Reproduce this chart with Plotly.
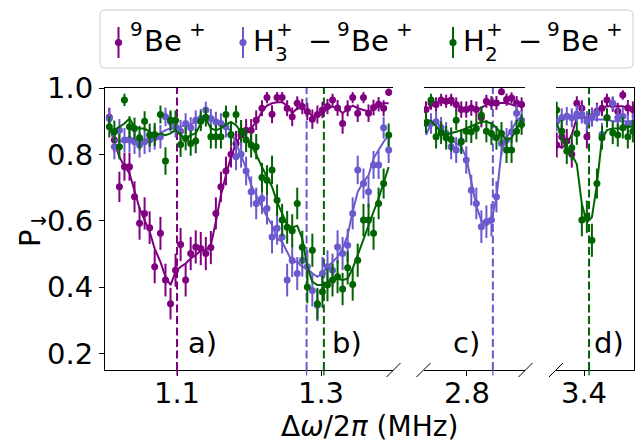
import numpy as np
import plotly.graph_objects as go

W, H = 644, 445

# ---------------- data ----------------
# panel a/b  (0.99 .. 1.40 MHz)
x_ab = [1.006, 1.013, 1.020, 1.027, 1.034, 1.041, 1.048, 1.055, 1.062, 1.069,
        1.077, 1.084, 1.091, 1.098, 1.105, 1.112, 1.119, 1.126, 1.133, 1.140,
        1.147, 1.154, 1.161, 1.168, 1.175, 1.182, 1.189, 1.196, 1.203, 1.210,
        1.218, 1.225, 1.232, 1.239, 1.246, 1.253, 1.260, 1.267, 1.274, 1.281,
        1.288, 1.295, 1.302, 1.309, 1.316, 1.323, 1.330, 1.337, 1.344, 1.351,
        1.359, 1.366, 1.373, 1.380, 1.387, 1.394]
be_ab = [0.912, 0.843, 0.702, 0.763, 0.763, 0.672, 0.592, 0.622, 0.579, 0.461, 0.562, 0.421, 0.350, 0.451, 0.528, 0.421, 0.501, 0.521,
         0.516, 0.501, 0.519, 0.622, 0.702, 0.750, 0.800, 0.833, 0.858, 0.873, 0.873, 0.903, 0.939, 0.971, 0.921, 0.971, 0.971, 0.939, 0.913,
         0.954, 0.944, 0.929, 0.906, 0.920, 0.934, 0.944, 0.964, 0.940, 0.893, 0.939, 0.971, 0.924, 0.971, 0.924, 0.941, 0.951, 0.939, 0.987]
be_ab_fit = [0.888, 0.835, 0.793, 0.763, 0.743, 0.692, 0.637, 0.602, 0.567, 0.516, 0.476, 0.431, 0.406, 0.446, 0.461, 0.471, 0.486, 0.496,
             0.511, 0.511, 0.526, 0.597, 0.677, 0.738, 0.793, 0.833, 0.858, 0.868, 0.878, 0.898, 0.929, 0.947, 0.954, 0.957, 0.957, 0.947, 0.924,
             0.939, 0.939, 0.929, 0.916, 0.913, 0.924, 0.939, 0.944, 0.939, 0.924, 0.937, 0.947, 0.939, 0.934, 0.929, 0.934, 0.949, 0.954, 0.954]
h3_ab = [0.908, 0.823, 0.873, 0.843, 0.843, 0.838, 0.828, 0.838, 0.843, 0.850, 0.853, 0.913, 0.898, 0.883, 0.870, 0.893, 0.880,
         0.903, 0.908, 0.934, 0.908, 0.898, 0.893, 0.883, 0.858, 0.793, 0.800, 0.750, 0.687, 0.652, 0.667, 0.637, 0.551, 0.577, 0.551, 0.421, 0.480,
         0.441, 0.481, 0.461, 0.390, 0.345, 0.441, 0.461, 0.451, 0.521, 0.501, 0.526, 0.622, 0.753, 0.712, 0.687, 0.768, 0.768, 0.880, 0.813]
h3_ab_fit = [0.888, 0.843, 0.838, 0.843, 0.853, 0.843, 0.838, 0.840, 0.843, 0.858, 0.863, 0.873, 0.878, 0.878, 0.883, 0.888, 0.890, 0.898,
             0.908, 0.913, 0.908, 0.903, 0.898, 0.888, 0.868, 0.833, 0.798, 0.757, 0.707, 0.677, 0.642, 0.612, 0.587, 0.546, 0.536, 0.506, 0.476,
             0.476, 0.461, 0.456, 0.441, 0.431, 0.441, 0.461, 0.476, 0.491, 0.516, 0.556, 0.627, 0.687, 0.717, 0.737, 0.788, 0.813, 0.838, 0.858]
h2_ab = [0.883, 0.868, 0.823, 0.964, 0.883, 0.878, 0.850, 0.900, 0.858, 0.860, 0.920, 0.780, 0.903, 0.903, 0.830, 0.848, 0.833, 0.840,
         0.900, 0.912, 0.853, 0.853, 0.853, 0.920, 0.860, 0.920, 0.870, 0.843, 0.828, 0.823, 0.730, 0.722, 0.753, 0.662, 0.602, 0.580, 0.570,
         0.652, 0.520, 0.400, 0.511, 0.350, 0.386, 0.406, 0.421, 0.431, 0.394, 0.458, 0.408, 0.481, 0.602, 0.602, 0.562, 0.652, 0.712, 0.858]
h2_ab_fit = [0.878, 0.873, 0.883, 0.893, 0.908, 0.883, 0.878, 0.878, 0.868, 0.858, 0.863, 0.858, 0.863, 0.873, 0.858, 0.848, 0.858, 0.863,
             0.893, 0.908, 0.878, 0.873, 0.878, 0.890, 0.898, 0.888, 0.868, 0.853, 0.828, 0.800, 0.762, 0.732, 0.702, 0.657, 0.622, 0.587, 0.580,
             0.585, 0.546, 0.461, 0.416, 0.406, 0.406, 0.416, 0.426, 0.426, 0.421, 0.426, 0.456, 0.496, 0.546, 0.587, 0.627, 0.667, 0.717, 0.762]

# panel c  (2.74 .. 2.88 MHz)
x_c = [2.743, 2.750, 2.757, 2.764, 2.771, 2.778, 2.785, 2.792, 2.799, 2.806,
       2.813, 2.820, 2.827, 2.834, 2.841, 2.848, 2.855, 2.862, 2.869, 2.876]
be_c = [0.935, 0.955, 0.950, 0.964, 0.960, 0.964, 0.950, 0.935, 0.935, 0.940, 0.935, 0.910, 0.960, 0.955, 0.955, 0.989, 0.965, 0.970, 0.955, 0.950]
be_c_fit = [0.935, 0.945, 0.955, 0.957, 0.957, 0.955, 0.950, 0.940, 0.935, 0.935, 0.935, 0.940, 0.950, 0.955, 0.955, 0.955, 0.955, 0.950, 0.945, 0.948]
h3_c = [0.893, 0.893, 0.898, 0.880, 0.863, 0.823, 0.813, 0.840, 0.783, 0.692, 0.652, 0.582, 0.597, 0.602, 0.672, 0.833, 0.843, 0.868, 0.924, 0.903]
h3_c_fit = [0.858, 0.893, 0.898, 0.883, 0.858, 0.843, 0.833, 0.823, 0.790, 0.720, 0.645, 0.600, 0.585, 0.600, 0.670, 0.810, 0.850, 0.875, 0.900, 0.915]
h2_c = [0.895, 0.964, 0.853, 0.865, 0.850, 0.845, 0.903, 0.838, 0.870, 0.868, 0.878, 0.918, 0.870, 0.863, 0.850, 0.863, 0.813, 0.813, 0.870, 0.890]
h2_c_fit = [0.905, 0.900, 0.885, 0.865, 0.860, 0.865, 0.868, 0.872, 0.878, 0.885, 0.892, 0.898, 0.898, 0.893, 0.880, 0.860, 0.843, 0.850, 0.875, 0.905]

# panel d  (3.36 .. 3.47 MHz)
x_d = [3.362, 3.369, 3.376, 3.383, 3.390, 3.397, 3.404, 3.411,
       3.418, 3.425, 3.432, 3.440, 3.447, 3.454, 3.461, 3.468]
be_d = [0.828, 0.853, 0.840, 0.800, 0.954, 0.939, 0.853, 0.913, 0.930, 0.939, 0.964, 0.950, 0.930, 0.979, 0.940, 0.935]
be_d_fit = [0.830, 0.820, 0.830, 0.860, 0.910, 0.915, 0.910, 0.915, 0.930, 0.940, 0.945, 0.945, 0.945, 0.945, 0.940, 0.940]
h3_d = [0.900, 0.910, 0.915, 0.910, 0.922, 0.920, 0.900, 0.912, 0.925, 0.860, 0.910, 0.954, 0.910, 0.915, 0.890, 0.893]
h3_d_fit = [0.895, 0.905, 0.910, 0.910, 0.910, 0.910, 0.908, 0.905, 0.905, 0.905, 0.905, 0.900, 0.900, 0.900, 0.900, 0.900]
h2_d = [0.934, 0.870, 0.810, 0.820, 0.863, 0.602, 0.612, 0.541, 0.712, 0.850, 0.910, 0.865, 0.858, 0.880, 0.853, 0.870]
h2_d_fit = [0.895, 0.850, 0.810, 0.800, 0.770, 0.650, 0.595, 0.610, 0.710, 0.848, 0.873, 0.878, 0.878, 0.878, 0.883, 0.883]

# expected resonance positions (dashed lines)
res_ab = [(1.100, "be"), (1.280, "h3"), (1.304, "h2")]
res_c = [(2.836, "h3")]
res_d = [(3.407, "h2")]

N_SHOTS = 100  # binomial projection-noise error bars

y_ticks = [0.2, 0.4, 0.6, 0.8, 1.0]
y_ticktext = ["0.2", "0.4", "0.6", "0.8", "1.0"]
x_ticks = [[1.1, 1.3], [2.8], [3.4]]
x_ticktext = [["1.1", "1.3"], ["2.8"], ["3.4"]]
panel_labels = [("a)", 1.135, 0), ("b)", 1.3355, 0), ("c)", 2.7993, 1), ("d)", 3.4348, 2)]

COL = {"be": "#800080", "h3": "#6a5acd", "h2": "#006400"}
FONT = "DejaVu Sans"
FS = 29

# ---------------- geometry (pixels) ----------------
def PX(px):
    return px / W

def PY(py):
    return 1 - py / H

dom_x = [[PX(105), PX(393)], [PX(424), PX(525)], [PX(556), PX(634)]]
dom_y = [PY(370), PY(88)]
ranges = [[1.0, 1.4], [2.7402, 2.8807], [3.3610, 3.4696]]


def err(p):
    return [float(np.sqrt(max(v * (1 - v), 0.0) / N_SHOTS)) for v in p]


fig = go.Figure()

panels = [
    (x_ab, [("be", be_ab, be_ab_fit), ("h3", h3_ab, h3_ab_fit), ("h2", h2_ab, h2_ab_fit)]),
    (x_c, [("be", be_c, be_c_fit), ("h3", h3_c, h3_c_fit), ("h2", h2_c, h2_c_fit)]),
    (x_d, [("be", be_d, be_d_fit), ("h3", h3_d, h3_d_fit), ("h2", h2_d, h2_d_fit)]),
]
axn = ["", "2", "3"]
for k, (xs, series) in enumerate(panels):
    for key, vals, fit in series:
        c = COL[key]
        fig.add_trace(go.Scatter(
            x=xs, y=vals, mode="markers", xaxis="x" + axn[k], yaxis="y" + axn[k],
            marker=dict(color=c, size=7, line=dict(width=0)),
            error_y=dict(type="data", array=err(vals), color=c, thickness=2, width=0),
            showlegend=False, hoverinfo="skip"))
        fig.add_trace(go.Scatter(
            x=xs, y=fit, mode="lines", xaxis="x" + axn[k], yaxis="y" + axn[k],
            line=dict(color=c, width=2), showlegend=False, hoverinfo="skip"))

shapes = []
# dashed resonance lines + coloured ticks
for k, res in enumerate([res_ab, res_c, res_d]):
    for xv, key in res:
        shapes.append(dict(type="line", xref="x" + axn[k], yref="paper",
                           x0=xv, x1=xv, y0=dom_y[0], y1=dom_y[1], layer="below",
                           line=dict(color=COL[key], width=2, dash="8px,3.5px")))
        shapes.append(dict(type="line", xref="x" + axn[k], yref="paper",
                           x0=xv, x1=xv, y0=PY(370), y1=PY(375.5), layer="above",
                           line=dict(color=COL[key], width=1.3)))
# axis-break diagonals
for cx in [393.5, 423.5, 525.5, 556.0]:
    shapes.append(dict(type="line", xref="paper", yref="paper",
                       x0=PX(cx - 7), y0=PY(377), x1=PX(cx + 7), y1=PY(363),
                       line=dict(color="black", width=1)))

# legend frame (rounded)
lx0, lx1, ly0, ly1, r = 100, 633, 10, 68, 5
path = (f"M {PX(lx0 + r)},{PY(ly0)} L {PX(lx1 - r)},{PY(ly0)} "
        f"Q {PX(lx1)},{PY(ly0)} {PX(lx1)},{PY(ly0 + r)} "
        f"L {PX(lx1)},{PY(ly1 - r)} Q {PX(lx1)},{PY(ly1)} {PX(lx1 - r)},{PY(ly1)} "
        f"L {PX(lx0 + r)},{PY(ly1)} Q {PX(lx0)},{PY(ly1)} {PX(lx0)},{PY(ly1 - r)} "
        f"L {PX(lx0)},{PY(ly0 + r)} Q {PX(lx0)},{PY(ly0)} {PX(lx0 + r)},{PY(ly0)} Z")
shapes.append(dict(type="path", xref="paper", yref="paper", path=path,
                   fillcolor="rgba(255,255,255,0.8)", line=dict(color="#cccccc", width=1)))

# legend handles
for key, mx in [("be", 118.5), ("h3", 243), ("h2", 453)]:
    shapes.append(dict(type="line", xref="paper", yref="paper",
                       x0=PX(mx), x1=PX(mx), y0=PY(27), y1=PY(58),
                       line=dict(color=COL[key], width=2)))
    shapes.append(dict(type="circle", xref="paper", yref="paper",
                       x0=PX(mx - 3.6), x1=PX(mx + 3.6), y0=PY(42.5 - 3.6), y1=PY(42.5 + 3.6),
                       fillcolor=COL[key], line=dict(color=COL[key], width=0)))

annotations = []


def txt(s, px, py, size=FS, xanchor="left", angle=0):
    annotations.append(dict(text=s, x=PX(px), y=PY(py), xref="paper", yref="paper",
                            xanchor=xanchor, yanchor="middle", showarrow=False,
                            textangle=angle, font=dict(family=FONT, size=size, color="black"),
                            borderpad=0))


SS = 20   # script size
YM, YSUP, YSUB = 41, 29, 54
# entry 1
txt("9", 129, YSUP, SS); txt("Be", 143, YM); txt("+", 188, YSUP, SS)
# entry 2
txt("H", 252, YM); txt("3", 274, YSUB, SS); txt("+", 275, YSUP, SS)
txt("\u2212", 307, YM); txt("9", 336, YSUP, SS); txt("Be", 350, YM); txt("+", 395, YSUP, SS)
# entry 3
txt("H", 462, YM); txt("2", 484, YSUB, SS); txt("+", 485, YSUP, SS)
txt("\u2212", 517, YM); txt("9", 546, YSUP, SS); txt("Be", 560, YM); txt("+", 605, YSUP, SS)

# axis titles
txt("P<sub>\u2193</sub>", 32, 229, FS, xanchor="center", angle=-90)
txt("\u0394<i>\u03c9</i>/2<i>\u03c0</i> (MHz)", 369, 426, 28, xanchor="center")

# panel labels
for lab, xv, k in panel_labels:
    annotations.append(dict(text=lab, x=xv, y=0.231, xref="x" + axn[k], yref="y" + axn[k],
                            xanchor="center", yanchor="middle", showarrow=False,
                            font=dict(family=FONT, size=FS, color="black")))

layout = dict(
    template="none",
    width=W, height=H, margin=dict(l=0, r=0, t=0, b=0, pad=0, autoexpand=False),
    paper_bgcolor="white", plot_bgcolor="white",
    font=dict(family=FONT, size=FS, color="black"),
    showlegend=False, shapes=shapes, annotations=annotations,
)
for k in range(3):
    xa = dict(domain=dom_x[k], range=ranges[k], showgrid=False, zeroline=False,
              automargin=False,
              showline=True, mirror=True, linecolor="black", linewidth=1,
              ticks="outside", ticklen=5, tickwidth=1, tickcolor="black",
              tickvals=x_ticks[k], ticktext=x_ticktext[k], ticklabelstandoff=-8,
              tickfont=dict(family=FONT, size=FS, color="black"),
              anchor="y" + axn[k])
    ya = dict(domain=dom_y, range=[0.15, 1.0], showgrid=False, zeroline=False,
              automargin=False, anchor="x" + axn[k])
    if k == 0:
        ya.update(showline=True, linecolor="black", linewidth=1, ticks="outside",
                  ticklen=5, tickwidth=1, tickcolor="black", tickvals=y_ticks,
                  ticktext=y_ticktext, tickfont=dict(family=FONT, size=FS, color="black"))
    elif k == 1:
        ya.update(showline=False, showticklabels=False, ticks="")
    else:
        ya.update(showline=True, linecolor="black", linewidth=1, side="right",
                  showticklabels=False, ticks="")
    layout["xaxis" + axn[k]] = xa
    layout["yaxis" + axn[k]] = ya

fig.update_layout(**layout)
fig.write_html("out.html", config={"displayModeBar": False},
               post_script="document.body.style.margin='0px';document.body.style.padding='0px';")
